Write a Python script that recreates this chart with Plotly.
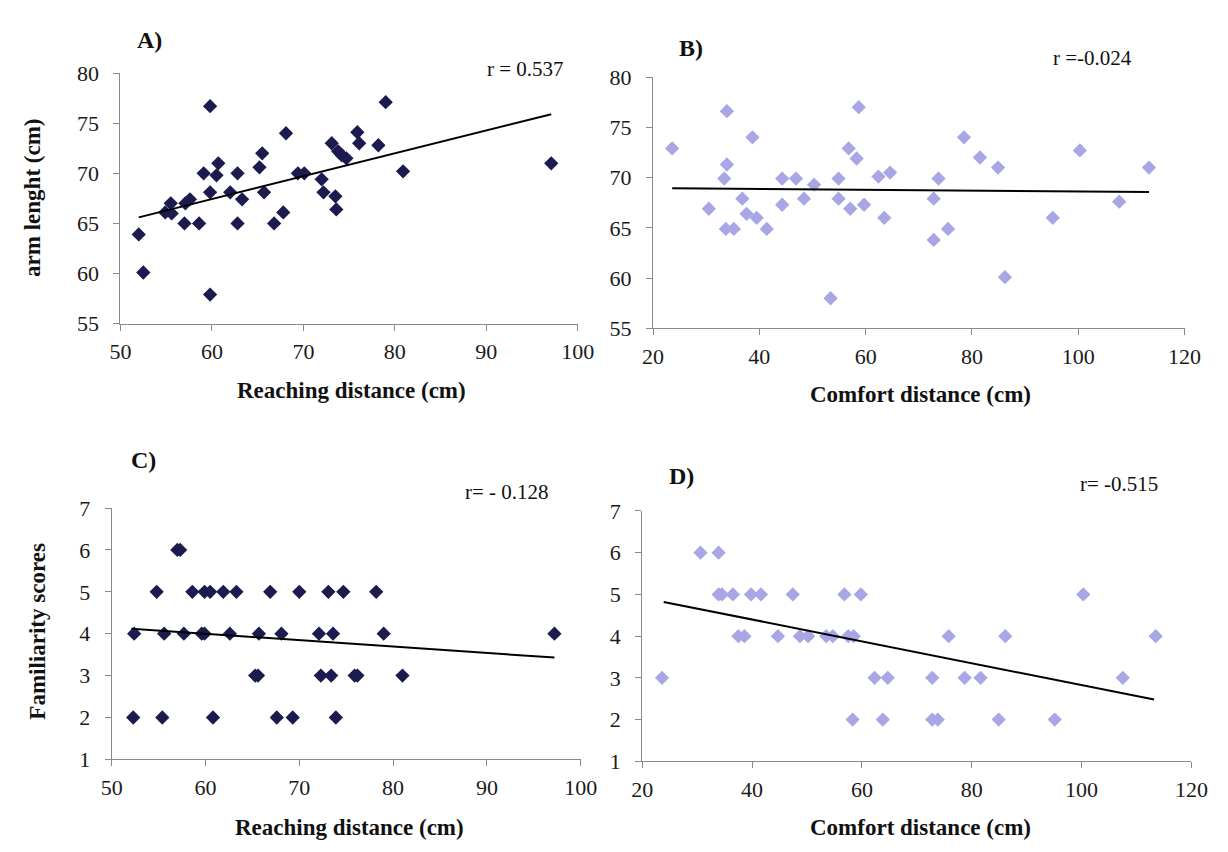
import plotly.graph_objects as go

# ---- data ----
reach_a = [52.0, 52.5, 59.8, 59.8, 54.9, 55.5, 55.6, 57.1, 57.6, 57.0, 58.6, 59.1, 59.8, 60.5, 60.7,
           62.0, 62.8, 62.8, 63.3, 65.2, 65.5, 65.7, 66.8, 67.8, 68.1, 69.4, 70.1, 72.0, 72.2, 73.1,
           73.5, 73.6, 73.8, 74.2, 74.7, 75.9, 76.1, 78.2, 79.0, 80.9, 97.1]
arm_a = [63.9, 60.1, 76.7, 57.9, 66.1, 67.0, 66.0, 67.0, 67.4, 65.0, 65.0, 70.0, 68.1, 69.8, 71.0,
         68.1, 65.0, 70.0, 67.4, 70.6, 72.0, 68.1, 65.0, 66.1, 74.0, 70.0, 70.0, 69.4, 68.1, 73.0,
         67.7, 66.4, 72.2, 71.8, 71.5, 74.1, 73.0, 72.8, 77.1, 70.2, 71.0]

comfort_b = [23.6, 30.5, 33.9, 33.9, 33.4, 33.7, 35.2, 36.8, 37.6, 38.7, 39.5, 41.4, 44.3, 44.3,
             46.9, 48.4, 50.3, 53.4, 54.9, 54.9, 56.8, 57.1, 58.3, 58.7, 59.7, 62.4, 64.6, 63.5,
             72.8, 72.8, 73.7, 75.5, 78.5, 81.5, 84.9, 86.2, 95.2, 100.3, 107.7, 113.3]
arm_b = [72.9, 66.9, 76.6, 71.3, 69.9, 64.9, 64.9, 67.9, 66.4, 74.0, 66.0, 64.9, 69.9, 67.3,
         69.9, 67.9, 69.3, 58.0, 69.9, 67.9, 72.9, 66.9, 71.9, 77.0, 67.3, 70.1, 70.5, 66.0,
         67.9, 63.8, 69.9, 64.9, 74.0, 72.0, 71.0, 60.1, 66.0, 72.7, 67.6, 71.0]

reach_c = [57.0, 57.3,
           54.8, 58.6, 59.9, 60.5, 61.9, 63.3, 66.9, 70.0, 73.1, 74.7, 78.2,
           52.4, 55.6, 57.7, 59.6, 59.9, 62.6, 65.7, 68.1, 72.1, 73.6, 79.0, 97.2,
           65.3, 65.6, 72.3, 73.4, 75.9, 76.2, 81.0,
           52.3, 55.4, 60.8, 67.6, 69.3, 73.9]
fam_c = [6, 6,
         5, 5, 5, 5, 5, 5, 5, 5, 5, 5, 5,
         4, 4, 4, 4, 4, 4, 4, 4, 4, 4, 4, 4,
         3, 3, 3, 3, 3, 3, 3,
         2, 2, 2, 2, 2, 2]

comfort_d = [30.6, 33.9,
             33.9, 34.5, 36.5, 39.8, 41.6, 47.4, 56.8, 59.8, 100.3,
             37.5, 38.6, 44.7, 48.7, 50.2, 53.5, 54.7, 57.5, 58.5, 75.8, 86.1, 113.5,
             23.6, 62.3, 64.7, 72.8, 78.7, 81.6, 107.5,
             58.3, 63.8, 72.8, 73.8, 84.9, 95.1]
fam_d = [6, 6,
         5, 5, 5, 5, 5, 5, 5, 5, 5,
         4, 4, 4, 4, 4, 4, 4, 4, 4, 4, 4, 4,
         3, 3, 3, 3, 3, 3, 3,
         2, 2, 2, 2, 2, 2]

# trend line end points
trend_a_x, trend_a_y = [52.0, 97.1], [65.6, 75.9]
trend_b_x, trend_b_y = [23.6, 113.3], [68.95, 68.56]
trend_c_x, trend_c_y = [52.1, 97.2], [4.12, 3.43]
trend_d_x, trend_d_y = [23.9, 113.2], [4.82, 2.48]

panel_labels = ["A)", "B)", "C)", "D)"]
r_labels = ["r = 0.537", "r =-0.024", "r= - 0.128", "r= -0.515"]
x_titles = ["Reaching distance (cm)", "Comfort distance (cm)",
            "Reaching distance (cm)", "Comfort distance (cm)"]
y_titles = ["arm lenght (cm)", "", "Familiarity scores", ""]

# ---- layout helpers ----
W, H = 1228, 852
DARK = "#1b1b4f"
LIGHT = "#a9a6e6"
SERIF = "Liberation Serif, Times New Roman, serif"

# plot areas in pixels: (left, right, top, bottom)
boxes = [(112, 580, 63, 321), (657, 1201, 67, 326), (103, 583, 511, 770), (646, 1208, 514, 772)]
xranges = [[50, 100], [20, 120], [50, 100], [20, 120]]
yranges = [[55, 80], [55, 80], [1, 7], [1, 7]]
xdticks = [10, 20, 10, 20]
ydticks = [5, 5, 1, 1]

fig = go.Figure()

series = [
    (reach_a, arm_a, DARK, trend_a_x, trend_a_y),
    (comfort_b, arm_b, LIGHT, trend_b_x, trend_b_y),
    (reach_c, fam_c, DARK, trend_c_x, trend_c_y),
    (comfort_d, fam_d, LIGHT, trend_d_x, trend_d_y),
]

for i, (xs, ys, col, tx, ty) in enumerate(series):
    sfx = "" if i == 0 else str(i + 1)
    fig.add_trace(go.Scatter(x=xs, y=ys, mode="markers", xaxis="x" + sfx, yaxis="y" + sfx,
                             marker=dict(symbol="diamond", size=11, color=col, line=dict(width=0)),
                             showlegend=False))
    fig.add_trace(go.Scatter(x=tx, y=ty, mode="lines", xaxis="x" + sfx, yaxis="y" + sfx,
                             line=dict(color="black", width=2), showlegend=False))

axis_common = dict(showgrid=False, zeroline=False, showline=True, linecolor="#8a8a8a",
                   linewidth=1, ticks="outside", ticklen=6, tickcolor="#8a8a8a",
                   tickfont=dict(family=SERIF, size=22, color="#1a1a1a"), mirror=False)

layout = dict(width=W, height=H, margin=dict(l=0, r=0, t=0, b=0),
              plot_bgcolor="white", paper_bgcolor="white", showlegend=False)

for i in range(4):
    l, r, t, b = boxes[i]
    sfx = "" if i == 0 else str(i + 1)
    layout["xaxis" + sfx] = dict(axis_common, domain=[l / W, r / W], range=xranges[i],
                                 dtick=xdticks[i], tick0=xranges[i][0],
                                 anchor="y" + sfx, ticklabelstandoff=2)
    layout["yaxis" + sfx] = dict(axis_common, domain=[1 - b / H, 1 - t / H], range=yranges[i],
                                 dtick=ydticks[i], tick0=yranges[i][0],
                                 anchor="x" + sfx, ticklabelstandoff=10)

fig.update_layout(**layout)

TITLE_FONT = dict(family=SERIF, size=23, color="#111")
label_pos = [(142, 29), (696, 37), (136, 462), (686, 478)]
r_pos = [(526, 59), (1107, 47), (508, 494), (1134, 486)]
xt_pos = [(348, 390), (931, 394), (346, 840), (931, 840)]
yt_pos = [(22, 191), None, (27, 638), None]
for i in range(4):
    fig.add_annotation(text="<b>" + panel_labels[i] + "</b>", x=label_pos[i][0] / W,
                       y=1 - label_pos[i][1] / H, xref="paper", yref="paper",
                       xanchor="center", yanchor="middle",
                       showarrow=False, font=dict(family=SERIF, size=24, color="#111"))
    fig.add_annotation(text=r_labels[i], x=r_pos[i][0] / W, y=1 - r_pos[i][1] / H,
                       xref="paper", yref="paper", xanchor="center", yanchor="middle",
                       showarrow=False, font=dict(family=SERIF, size=21, color="#111"))
    fig.add_annotation(text="<b>" + x_titles[i] + "</b>", x=xt_pos[i][0] / W,
                       y=1 - xt_pos[i][1] / H, xref="paper", yref="paper",
                       xanchor="center", yanchor="middle", showarrow=False, font=TITLE_FONT)
    if yt_pos[i] is not None:
        fig.add_annotation(text="<b>" + y_titles[i] + "</b>", x=yt_pos[i][0] / W,
                           y=1 - yt_pos[i][1] / H, xref="paper", yref="paper",
                           xanchor="center", yanchor="middle", textangle=-90,
                           showarrow=False, font=TITLE_FONT)

fig.write_html("out.html", config={"displayModeBar": False},
               post_script="document.body.style.margin='0px';")
